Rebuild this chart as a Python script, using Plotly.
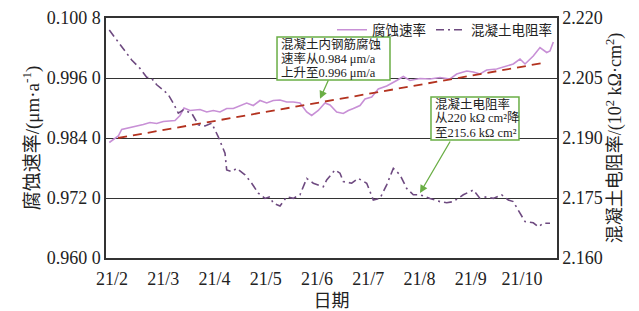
import plotly.graph_objects as go

# x positions in months since 21/2 (0 = 21/2, 8 = 21/10)
month_ticks = [0, 1, 2, 3, 4, 5, 6, 7, 8]
month_labels = ["21/2", "21/3", "21/4", "21/5", "21/6", "21/7", "21/8", "21/9", "21/10"]

rate_x = [-0.053, 0.123, 0.189, 0.416, 0.611, 0.741, 0.872, 1.001, 1.229, 1.327, 1.405, 1.522,
          1.717, 1.848, 1.977, 2.107, 2.238, 2.367, 2.498, 2.628, 2.757, 2.888, 3.018, 3.147,
          3.278, 3.409, 3.537, 3.668, 3.799, 3.896, 4.025, 4.156, 4.254, 4.384, 4.513, 4.611,
          4.709, 4.839, 4.937, 5.067, 5.196, 5.360, 5.555, 5.684, 5.815, 6.010, 6.205, 6.400,
          6.595, 6.726, 6.921, 7.050, 7.180, 7.311, 7.506, 7.701, 7.830, 7.961, 8.059, 8.220,
          8.351, 8.482, 8.546, 8.611]
rate_y = [0.9831, 0.9844, 0.9857, 0.9862, 0.9867, 0.9871, 0.9869, 0.9873, 0.9875, 0.9885, 0.9900, 0.9895,
          0.9897, 0.9892, 0.9895, 0.9892, 0.9899, 0.9899, 0.9905, 0.9910, 0.9905, 0.9915, 0.9910, 0.9915,
          0.9916, 0.9912, 0.9912, 0.9910, 0.9892, 0.9885, 0.9895, 0.9910, 0.9906, 0.9892, 0.9889, 0.9895,
          0.9899, 0.9905, 0.9918, 0.9922, 0.9938, 0.9944, 0.9955, 0.9963, 0.9955, 0.9959, 0.9958, 0.9961,
          0.9958, 0.9968, 0.9974, 0.9972, 0.9968, 0.9976, 0.9978, 0.9984, 0.9988, 0.9998, 0.9988, 1.0004,
          1.0021, 1.0011, 1.0014, 1.0032]

trend_x = [0.12, 8.41]
trend_y = [0.9840, 0.9990]

res_x = [-0.053, 0.123, 0.287, 0.384, 0.546, 0.677, 0.775, 0.872, 1.001, 1.099, 1.196, 1.294,
         1.391, 1.555, 1.684, 1.815, 1.945, 2.074, 2.205, 2.238, 2.336, 2.433, 2.595, 2.726,
         2.855, 2.985, 3.083, 3.147, 3.278, 3.409, 3.537, 3.668, 3.799, 3.928, 4.123, 4.189,
         4.351, 4.449, 4.513, 4.677, 4.806, 4.970, 5.099, 5.229, 5.360, 5.489, 5.620, 5.750,
         5.879, 6.010, 6.205, 6.400, 6.531, 6.660, 6.855, 7.050, 7.180, 7.311, 7.440, 7.604,
         7.733, 7.830, 7.961, 8.059, 8.220, 8.318, 8.416, 8.546]
res_y = [2.2170, 2.2141, 2.2112, 2.2095, 2.2074, 2.2052, 2.2049, 2.2033, 2.2020, 2.2008, 2.1987, 2.1962,
         2.1970, 2.1962, 2.1933, 2.1930, 2.1937, 2.1903, 2.1862, 2.1820, 2.1816, 2.1824, 2.1808, 2.1787,
         2.1762, 2.1749, 2.1753, 2.1737, 2.1730, 2.1753, 2.1749, 2.1758, 2.1799, 2.1787, 2.1778, 2.1795,
         2.1820, 2.1812, 2.1791, 2.1787, 2.1799, 2.1787, 2.1745, 2.1749, 2.1783, 2.1824, 2.1808, 2.1774,
         2.1758, 2.1758, 2.1749, 2.1741, 2.1738, 2.1741, 2.1758, 2.1770, 2.1749, 2.1753, 2.1749, 2.1758,
         2.1745, 2.1741, 2.1712, 2.1691, 2.1688, 2.1678, 2.1687, 2.1687]

left_ticks = [0.960, 0.972, 0.984, 0.996, 1.008]
left_labels = ["0.960 0", "0.972 0", "0.984 0", "0.996 0", "0.100 8"]
right_ticks = [2.160, 2.175, 2.190, 2.205, 2.220]
right_labels = ["2.160", "2.175", "2.190", "2.205", "2.220"]

note1_lines = ["混凝土内钢筋腐蚀", "速率从0.984 μm/a", "上升至0.996 μm/a"]
note2_lines = ["混凝土电阻率", "从220 kΩ cm²降", "至215.6 kΩ cm²"]

FONT = "Liberation Serif, Times New Roman, Noto Sans CJK SC, serif"
GREEN = "#6aae45"

fig = go.Figure()
fig.add_trace(go.Scatter(x=rate_x, y=rate_y, mode="lines", name="腐蚀速率",
                         line=dict(color="#c890d6", width=1.6)))
fig.add_trace(go.Scatter(x=trend_x, y=trend_y, mode="lines", showlegend=False,
                         line=dict(color="#b3321f", width=1.8, dash="9px,6px")))
fig.add_trace(go.Scatter(x=res_x, y=res_y, mode="lines", name="混凝土电阻率", yaxis="y2",
                         line=dict(color="#6e4a80", width=1.6, dash="8px,4px,2px,4px")))

# page body has an 8px margin, so the figure is drawn at (8, 8)
fig.update_layout(
    width=631, height=303,
    margin=dict(l=98, r=82, t=10, b=53, autoexpand=False),
    paper_bgcolor="white", plot_bgcolor="white",
    font=dict(family=FONT, color="#222", size=18),
    xaxis=dict(range=[-0.117, 8.683], tickvals=month_ticks, ticktext=month_labels,
               showgrid=False, zeroline=False, ticks="", showline=True, linecolor="#333",
               linewidth=1.5, mirror=True, tickfont=dict(size=18), automargin=False,
               ticklabelstandoff=4,
               title=dict(text="日期", font=dict(size=18), standoff=6)),
    yaxis=dict(range=[0.960, 1.008], tickvals=left_ticks, ticktext=left_labels,
               showgrid=True, gridcolor="#333", gridwidth=1.2, zeroline=False, ticks="",
               showline=True, linecolor="#333", linewidth=1.5, tickfont=dict(size=18),
               automargin=False,
               title=dict(text="腐蚀速率/(μm·a<sup>-1</sup>)", font=dict(size=19), standoff=2)),
    yaxis2=dict(range=[2.160, 2.220], tickvals=right_ticks, ticktext=right_labels,
                overlaying="y", side="right", showgrid=False, zeroline=False, ticks="",
                showline=True, linecolor="#333", linewidth=1.5, tickfont=dict(size=18),
                automargin=False,
                title=dict(text="混凝土电阻率/(10<sup>2</sup> kΩ·cm<sup>2</sup>)", font=dict(size=18), standoff=4)),
    legend=dict(orientation="h", x=1.0, xanchor="right", y=1.015, yanchor="top",
                bgcolor="rgba(0,0,0,0)", font=dict(size=13.5), itemwidth=30, tracegroupgap=0),
    showlegend=True,
)

box_font = dict(family=FONT, size=12.5, color="#222")

# note boxes: a green-bordered rectangle with three text lines inside
def note_box(lines, x0, x1, y0, y1):
    fig.add_shape(type="rect", xref="paper", yref="paper", x0=x0, x1=x1, y0=y0, y1=y1,
                  line=dict(color=GREEN, width=1.5), fillcolor="white", layer="above")
    h = (y1 - y0) / len(lines)
    for i, t in enumerate(lines):
        fig.add_annotation(xref="paper", yref="paper", x=x0 + 0.006, xanchor="left",
                           y=y1 - h * (i + 0.5), yanchor="middle", text=t, showarrow=False,
                           font=box_font, borderpad=0)

note_box(note1_lines, 0.3792, 0.6297, 0.7417, 0.9208)
note_box(note2_lines, 0.7206, 0.9157, 0.4917, 0.6708)

# arrows pointing from the boxes to the curves
fig.add_annotation(x=4.059, y=0.99184, xref="x", yref="y", text="", showarrow=True,
                   ax=9, ay=-20, arrowhead=2, arrowsize=1.2, arrowwidth=1.3, arrowcolor=GREEN)
fig.add_annotation(x=6.010, y=2.17625, xref="x", yref="y2", text="", showarrow=True,
                   ax=31, ay=-53, arrowhead=2, arrowsize=1.2, arrowwidth=1.3, arrowcolor=GREEN)

fig.write_html("out.html")
